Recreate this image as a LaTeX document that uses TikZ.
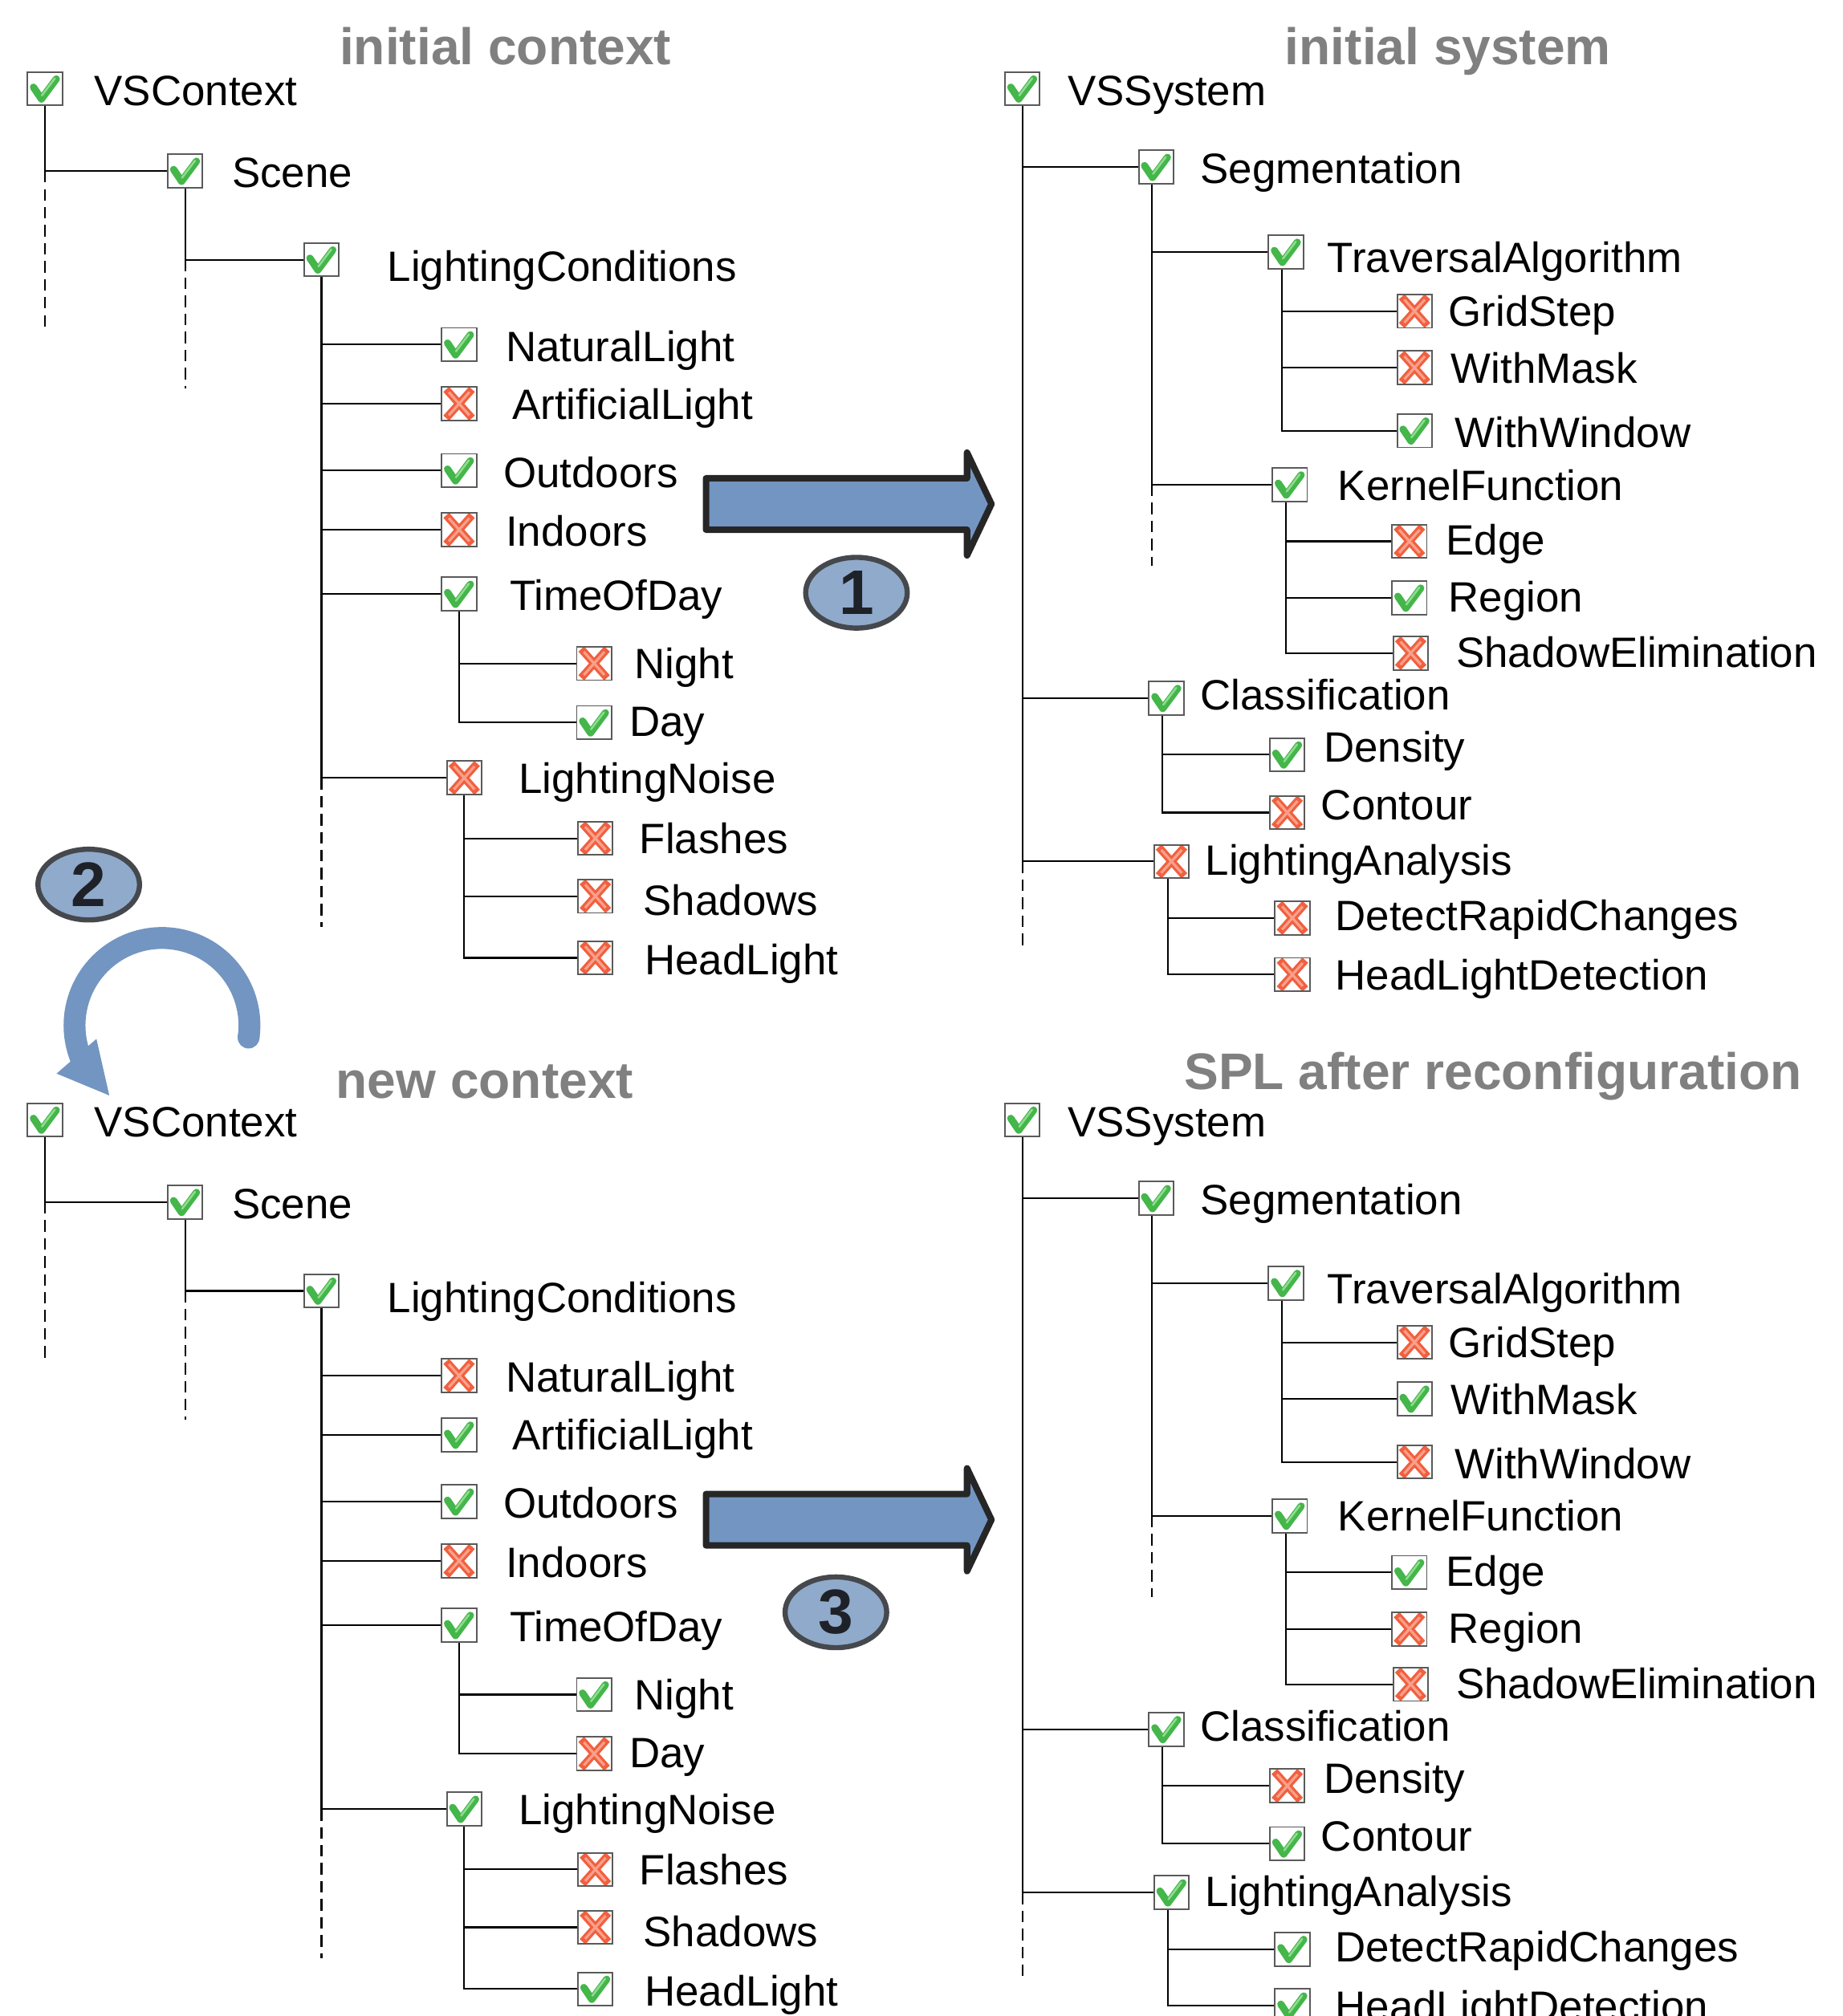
\documentclass[tikz,border=0pt]{standalone}
\usepackage{fontspec}
\setmainfont{Liberation Sans}
\usetikzlibrary{shapes.geometric}
\definecolor{boxgray}{HTML}{5A5A5A}
\definecolor{okgreen}{HTML}{44B64A}
\definecolor{okhi}{HTML}{8FDC8F}
\definecolor{nored}{HTML}{F0603F}
\definecolor{nohi}{HTML}{F9A08A}
\definecolor{titlegray}{HTML}{808080}
\definecolor{arrowfill}{HTML}{7395C1}
\definecolor{arrowline}{HTML}{262626}
\definecolor{badgefill}{HTML}{90AACB}
\definecolor{badgeline}{HTML}{45484C}
\definecolor{badgetext}{HTML}{1E2228}
\tikzset{
  box/.style    = {rectangle, draw=boxgray, line width=0.6pt, fill=white, minimum width=13.5pt, minimum height=13pt, inner sep=0},
  chk/.style    = {box, path picture={
      \draw[okgreen, line width=2.8pt, line cap=round, line join=round, shift={(path picture bounding box.center)}]
        (-4.5pt,0.6pt) -- (-1.4pt,-4.0pt) -- (4.4pt,3.8pt);
      \draw[okhi, line width=0.8pt, line cap=round, shift={(path picture bounding box.center)}]
        (-1.2pt,-2.6pt) -- (3.8pt,4.0pt);}},
  crs/.style    = {box, path picture={
      \draw[nored, line width=3pt, shift={(path picture bounding box.center)}]
        (-5pt,5.6pt) -- (5pt,-5.6pt) (-5pt,-5.6pt) -- (5pt,5.6pt);
      \draw[nohi, line width=1pt, shift={(path picture bounding box.center)}]
        (-4pt,4.5pt) -- (4pt,-4.5pt) (-4pt,-4.5pt) -- (4pt,4.5pt);}},
  lbl/.style    = {anchor=west, inner sep=0, text height=11.9pt, text depth=0pt, font=\fontsize{16.5}{20}\selectfont},
  ttl/.style    = {inner sep=0, text height=14.4pt, text depth=0pt, text=titlegray, font=\bfseries\fontsize{20}{24}\selectfont},
  tline/.style  = {line width=0.65pt},
  dline/.style  = {line width=0.65pt, dash pattern=on 4.5pt off 2.5pt},
  badge/.style  = {ellipse, draw=badgeline, line width=2pt, fill=badgefill, minimum width=39.5pt, minimum height=27.5pt, inner sep=0, text=badgetext, font=\bfseries\fontsize{24.5}{28}\selectfont},
  bigarrow/.style = {draw=arrowline, fill=arrowfill, line width=2.5pt, line join=round},
  flow/.style   = {arrowfill}
}

\begin{document}
\begin{tikzpicture}[x=0.5pt, y=-0.5pt]
  \useasboundingbox (0,0) rectangle (1433,1568);

  % titles
  \node[ttl] (t1) at (393,36)   {initial context};
  \node[ttl] (t2) at (1126,36)  {initial system};
  \node[ttl] (t3) at (377,840)  {new context};
  \node[ttl] (t4) at (1161,833) {SPL after reconfiguration};

  % context trees: a = initial, b = new
  \foreach \n/\bx/\by/\sa/\sb/\tx/\ty/\t in {
      r/35/69/chk/chk/73/70/VSContext,
      sc/144/133/chk/chk/180/134/Scene,
      lc/250/202/chk/chk/301/207/LightingConditions,
      nl/357/268/chk/crs/393/269/NaturalLight,
      al/357/314/crs/chk/398/314/ArtificialLight,
      od/357/366/chk/chk/391/367/Outdoors,
      id/357/412/crs/crs/393/413/Indoors,
      tod/357/462/chk/chk/396/463/TimeOfDay,
      ni/462/516/crs/chk/493/516/Night,
      da/462/562/chk/crs/489/561/Day,
      ln/361/605/crs/chk/403/605/LightingNoise,
      fl/463/652/crs/crs/497/652/Flashes,
      sh/463/697/crs/crs/500/700/Shadows,
      hl/463/745/crs/chk/501/746/HeadLight}{
    \node[\sa] (a\n) at (\bx,\by) {};
    \node[lbl] (a\n-t) at (\tx,\ty) {\t};
    \node[\sb] (b\n) at (\bx,{\by+802}) {};
    \node[lbl] (b\n-t) at (\tx,{\ty+802}) {\t};
  }
  \foreach \p in {a,b}{
    \foreach \u/\v in {r/sc, sc/lc, lc/nl, lc/al, lc/od, lc/id, lc/tod, lc/ln, tod/ni, tod/da, ln/fl, ln/sh, ln/hl}
      \draw[tline] (\p\u.south) |- (\p\v.west);
    \draw[dline] (\p r.south |- \p sc.west) -- ++(0,124);
    \draw[dline] (\p sc.south |- \p lc.west) -- ++(0,100);
    \draw[dline] (\p lc.south |- \p ln.west) -- ++(0,116);
  }

  % system trees: c = initial, d = after reconfiguration
  \foreach \n/\bx/\by/\sc/\sd/\tx/\ty/\t in {
      r/795/69/chk/chk/830/70/VSSystem,
      sg/899/130/chk/chk/933/131/Segmentation,
      ta/1000/196/chk/chk/1032/200/TraversalAlgorithm,
      gs/1100/242/crs/crs/1126/242/GridStep,
      wm/1100/286/crs/chk/1128/286/WithMask,
      ww/1100/335/chk/crs/1131/336/WithWindow,
      kf/1003/377/chk/chk/1040/377/KernelFunction,
      ed/1096/421/crs/chk/1124/420/Edge,
      rg/1096/465/chk/crs/1126/464/Region,
      se/1097/508/crs/crs/1132/507/ShadowElimination,
      cl/907/543/chk/chk/933/540/Classification,
      de/1001/587/chk/crs/1029/581/Density,
      co/1001/632/crs/chk/1027/626/Contour,
      la/911/670/crs/chk/937/669/LightingAnalysis,
      dr/1005/714/crs/chk/1038/712/DetectRapidChanges,
      hd/1005/758/crs/chk/1038/758/HeadLightDetection}{
    \node[\sc] (c\n) at (\bx,\by) {};
    \node[lbl] (c\n-t) at (\tx,\ty) {\t};
    \node[\sd] (d\n) at (\bx,{\by+802}) {};
    \node[lbl] (d\n-t) at (\tx,{\ty+802}) {\t};
  }
  \foreach \p in {c,d}{
    \foreach \u/\v in {sg/ta, sg/kf, ta/gs, ta/wm, ta/ww, kf/ed, kf/rg, kf/se, cl/de, cl/co, la/dr, la/hd}
      \draw[tline] ([xshift=-1.5pt]\p\u.south) |- (\p\v.west);
    \foreach \v in {sg, cl, la}
      \draw[tline] (\p r.south) |- (\p\v.west);
    \draw[dline] (\p r.south |- \p la.west) -- ++(0,66);
    \draw[dline] ([xshift=-1.5pt]\p sg.south |- \p kf.west) -- ++(0,63);
  }

  % block arrows and step badges
  \foreach \dy in {0,790}
    \draw[bigarrow, shift={(0,\dy)}] (549,372) -- (752,372) -- (752,352) -- (771,392)
      -- (752,432) -- (752,412) -- (549,412) -- cycle;
  \node[badge] (n1) at (666,461)  {1};
  \node[badge] (n2) at (69,688)   {2};
  \node[badge] (n3) at (650,1254) {3};

  % curved arrow
  \fill[flow] (193.3,807) circle[radius=8.5];
  \draw[flow, line width=8.5pt] (193.3,807) arc[start angle=8, end angle=-203, radius=68];
  \fill[flow] (44,835) -- (75,808) -- (85,852) -- cycle;
\end{tikzpicture}
\end{document}
